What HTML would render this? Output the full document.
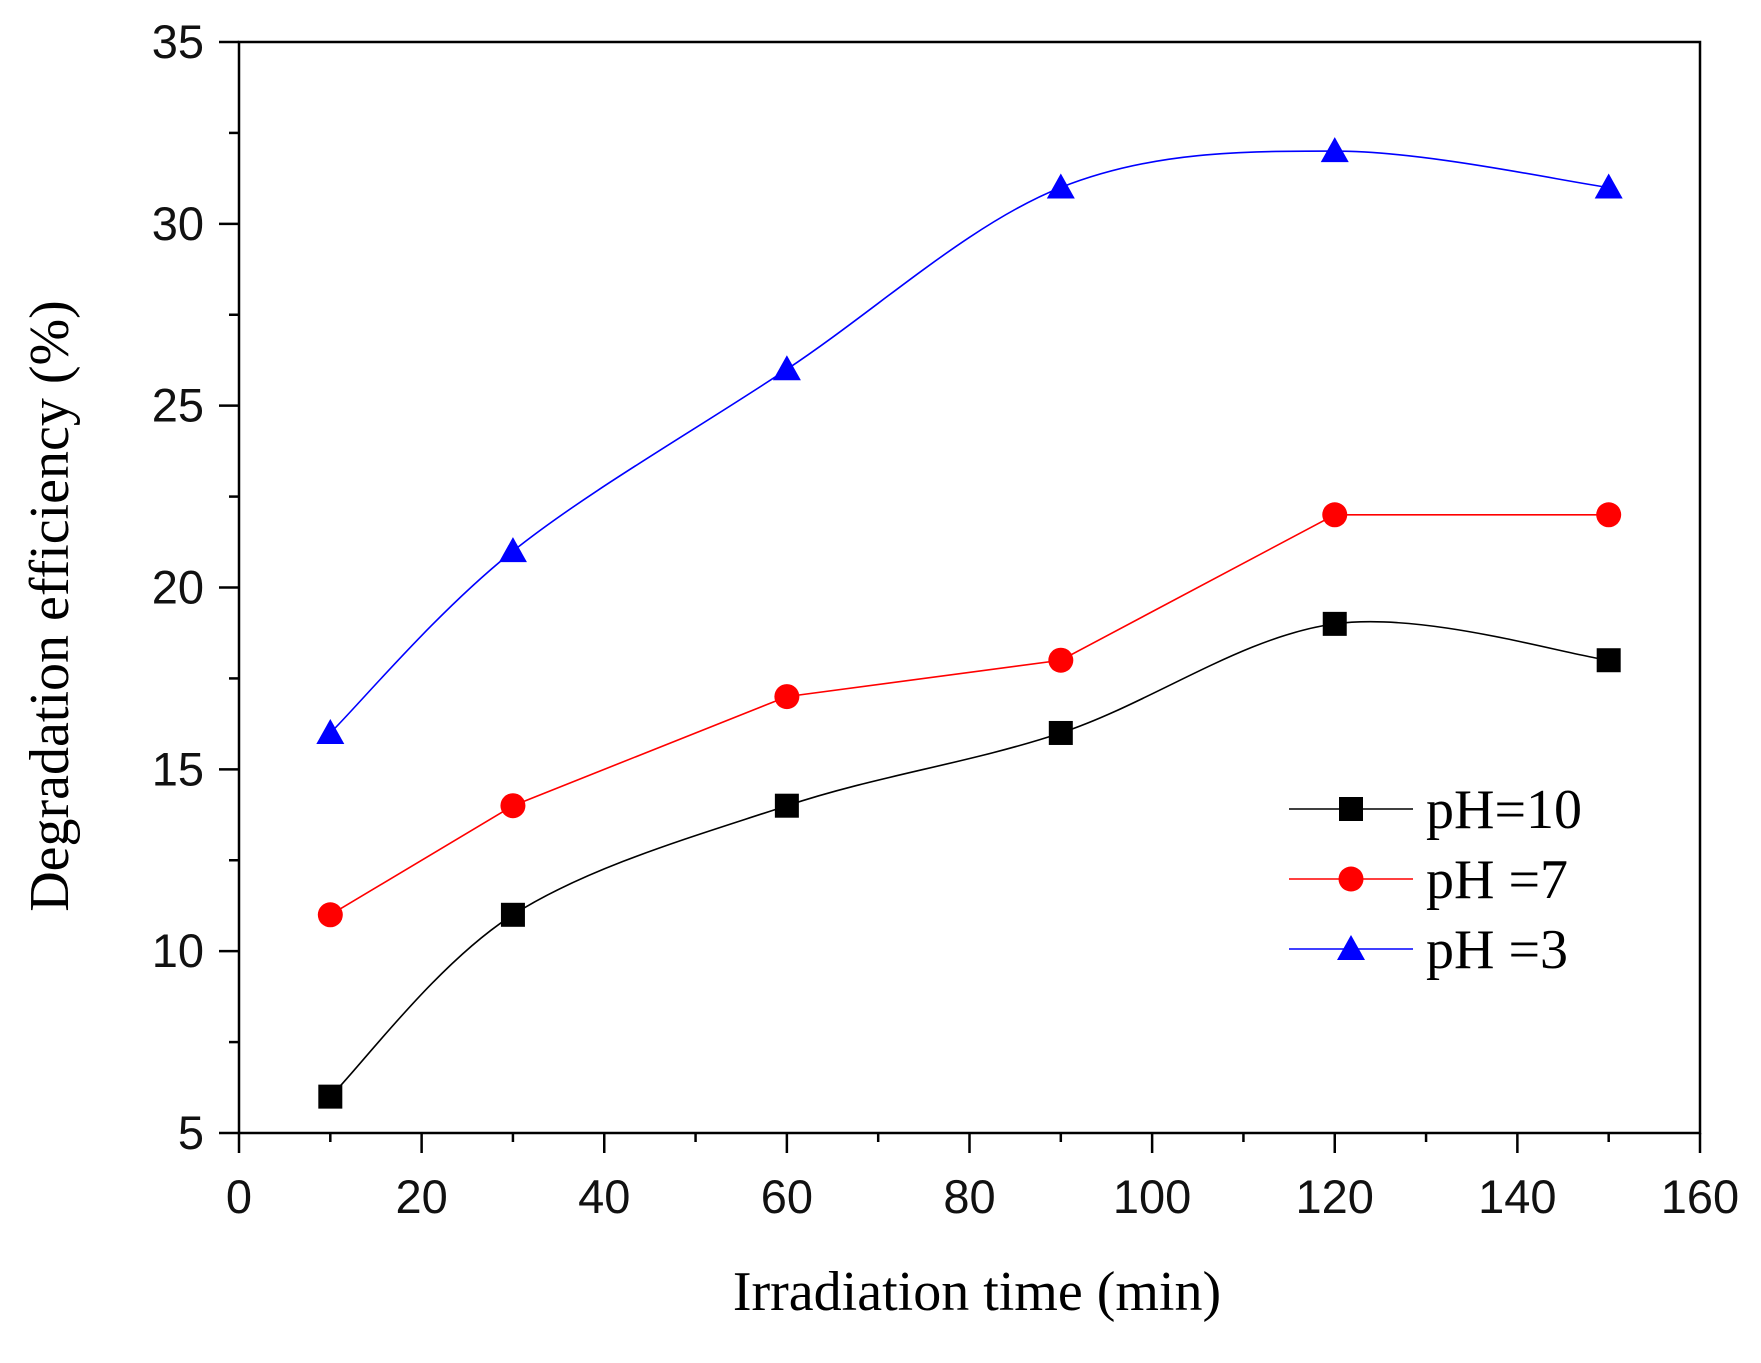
<!DOCTYPE html>
<html><head><meta charset="utf-8"><style>body{margin:0;background:#fff}svg{display:block}</style></head>
<body>
<svg id="c" width="1761" height="1363" xmlns="http://www.w3.org/2000/svg"></svg>
<script>
const xValues=[10,30,60,90,120,150];
const seriesPH10=[6,11,14,16,19,18];
const seriesPH7=[11,14,17,18,22,22];
const seriesPH3=[16,21,26,31,32,31];
const xTicks=[0,20,40,60,80,100,120,140,160];
const yTicks=[5,10,15,20,25,30,35];
const legendLabels=["pH=10","pH =7","pH =3"];
const NS="http://www.w3.org/2000/svg";
const svg=document.getElementById('c');
const X0=239,X1=1700,Y0=1133,Y1=42;
const sx=v=>X0+(v-0)/160*(X1-X0);
const sy=v=>Y0-(v-5)/30*(Y0-Y1);
function el(t,a,p){const e=document.createElementNS(NS,t);for(const k in a)e.setAttribute(k,a[k]);(p||svg).appendChild(e);return e;}
const frame=el('rect',{x:X0,y:Y1,width:X1-X0,height:Y0-Y1,fill:'none',stroke:'#000','stroke-width':2.5});


for(let v=0;v<=160;v+=10){const major=v%20===0;const t=el('line',{x1:sx(v),x2:sx(v),y1:Y0,y2:Y0+(major?20:9),stroke:'#000','stroke-width':2.5});

}
for(let v=5;v<=35;v+=2.5){const major=v%5===0;const t=el('line',{x1:X0,x2:X0-(major?20:10),y1:sy(v),y2:sy(v),stroke:'#000','stroke-width':2.5});

}
xTicks.forEach(v=>{const t=el('text',{x:sx(v),y:Y0+80,'text-anchor':'middle','font-family':'Liberation Sans, sans-serif','font-size':47,fill:'#111'});t.textContent=v;

});
yTicks.forEach(v=>{const t=el('text',{x:204,y:sy(v)+16,'text-anchor':'end','font-family':'Liberation Sans, sans-serif','font-size':47,fill:'#111'});t.textContent=v;

});
const xt=el('text',{x:977,y:1310,'text-anchor':'middle','font-family':'Liberation Serif, serif','font-size':56,fill:'#000'});xt.textContent='Irradiation time (min)';


const yt=el('text',{x:0,y:0,'text-anchor':'middle','font-family':'Liberation Serif, serif','font-size':56,fill:'#000',transform:'translate(68,606) rotate(-90)'});yt.textContent='Degradation efficiency (%)';


function smooth(pts){let d=`M${pts[0][0]},${pts[0][1]}`;for(let i=0;i<pts.length-1;i++){const p0=pts[i-1]||pts[i],p1=pts[i],p2=pts[i+1],p3=pts[i+2]||p2;
d+=` C${p1[0]+(p2[0]-p0[0])/6},${p1[1]+(p2[1]-p0[1])/6} ${p2[0]-(p3[0]-p1[0])/6},${p2[1]-(p3[1]-p1[1])/6} ${p2[0]},${p2[1]}`;}return d;}
function marker(type,x,y,color,g){let m;
if(type==='square')m=el('rect',{x:x-12,y:y-12,width:24,height:24,fill:color},g);
else if(type==='circle')m=el('circle',{cx:x,cy:y,r:12.5,fill:color},g);
else m=el('polygon',{points:`${x},${y-14} ${x+14},${y+11} ${x-14},${y+11}`,fill:color},g);
return m;}
const series=[{d:seriesPH10,c:'#000',m:'square',s:true,n:'series-ph10'},{d:seriesPH7,c:'#f00',m:'circle',s:false,n:'series-ph7'},{d:seriesPH3,c:'#00f',m:'triangle',s:true,n:'series-ph3'}];
series.forEach((s,si)=>{const g=el('g',{});

const pts=xValues.map((x,i)=>[sx(x),sy(s.d[i])]);
const path=el('path',{d:s.s?smooth(pts):'M'+pts.map(p=>p.join(',')).join(' L'),fill:'none',stroke:s.c,'stroke-width':1.6},g);


pts.forEach(p=>{const m=marker(s.m,p[0],p[1],s.c,g);

});
const ly=809+si*70;
const lg=el('g',{});

el('line',{x1:1289,x2:1413,y1:ly,y2:ly,stroke:s.c,'stroke-width':1.6},lg);
marker(s.m,1351,ly,s.c,lg);
const lt=el('text',{x:1426,y:ly+19,'font-family':'Liberation Serif, serif','font-size':56,fill:'#000'},lg);lt.textContent=legendLabels[si];});
</script>
</body></html>
